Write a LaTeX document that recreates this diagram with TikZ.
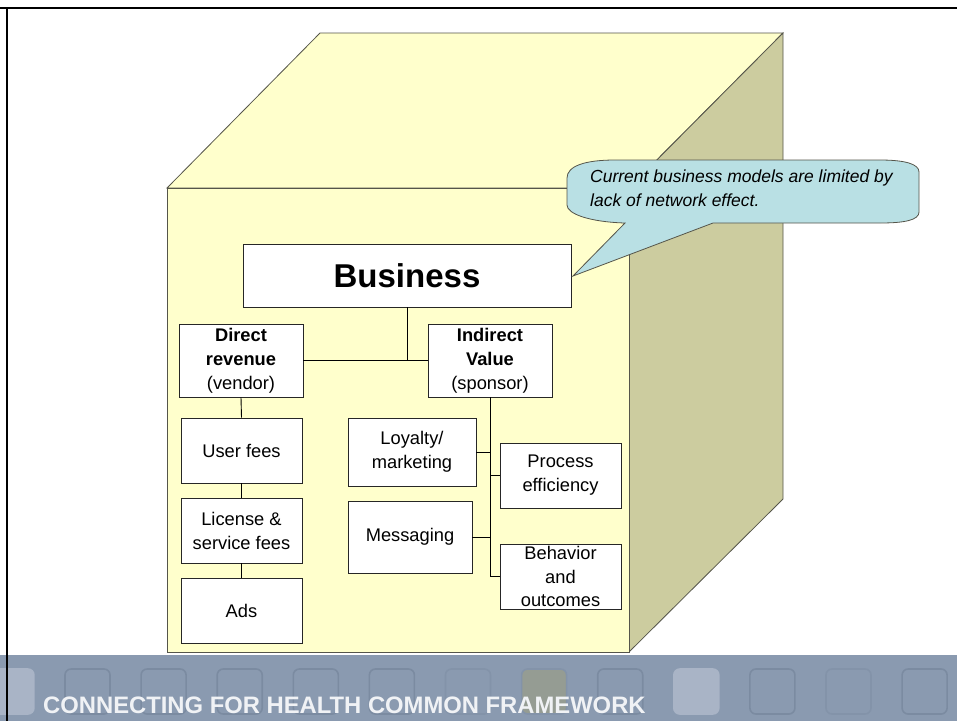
\documentclass[tikz,border=0pt]{standalone}
\usepackage{fontspec}
\setmainfont{Liberation Sans}
\definecolor{cubefront}{HTML}{FFFFCC}
\definecolor{cubeside}{HTML}{CCCC9F}
\definecolor{cubeline}{HTML}{55554A}
\definecolor{calloutfill}{HTML}{B9E0E4}
\definecolor{bannerbg}{HTML}{8A9AB0}
\definecolor{tileline}{HTML}{7B8BA1}
\definecolor{tilefaint}{HTML}{8393A9}
\definecolor{tilelight}{HTML}{A9B4C6}
\definecolor{tileolive}{HTML}{959C93}
\definecolor{bannertext}{HTML}{F0F2F5}
\begin{document}
\begin{tikzpicture}[x=1pt,y=-1pt,
    face/.style={fill=cubefront, draw=cubeline, line width=0.8pt},
    sideface/.style={fill=cubeside, draw=cubeline, line width=0.8pt},
    box/.style={draw=black!85, fill=white, line width=0.8pt, align=center,
      inner sep=0pt, font=\fontsize{18.3}{24}\selectfont},
    link/.style={draw=black, line width=0.9pt},
    tile/.style={line width=1.6pt, rounded corners=6pt}]
    \useasboundingbox (0,0) rectangle (957,721);
    % cube
    \coordinate (A) at (167,188);
    \coordinate (B) at (629,188);
    \coordinate (C) at (629,652);
    \coordinate (D) at (167,652);
    \coordinate (E) at (320,33);
    \coordinate (F) at (783,33);
    \coordinate (G) at (783,499);
    \filldraw[face] (A) -- (E) -- (F) -- (B) -- cycle;
    \filldraw[sideface] (B) -- (F) -- (G) -- (C) -- cycle;
    \filldraw[face] (A) -- (B) -- (C) -- (D) -- cycle;
    % footer
    \fill[bannerbg] (0,655) rectangle (957,721);
    \foreach \i/\fc/\lc in {-1/tilelight/tilelight, 0/bannerbg/tileline,
        1/bannerbg/tileline, 2/bannerbg/tileline, 3/bannerbg/tileline,
        4/bannerbg/tileline, 5/bannerbg/tilefaint, 6/tileolive/tilefaint,
        7/bannerbg/tileline, 8/tilelight/tilelight, 9/bannerbg/tileline,
        10/bannerbg/tilefaint, 11/bannerbg/tileline}
      \filldraw[tile, fill=\fc, draw=\lc] ({65+76.1*\i},669) rectangle +(45,45);
    \node[anchor=base west, inner sep=0pt, text=bannertext,
      font=\bfseries\fontsize{23.8}{28}\selectfont] (footer) at (43,713)
      {CONNECTING FOR HEALTH COMMON FRAMEWORK};
    \draw[line width=2.5pt] (0,8) -- (957,8);
    \draw[line width=2.2pt] (7,8) -- (7,721);
    % boxes
    \node[box, minimum width=328pt, minimum height=63pt,
      font=\bfseries\fontsize{33}{36}\selectfont] (business) at (407,275.5) {Business};
    \node[box, minimum width=124pt, minimum height=73pt] (direct) at (241,360.5)
      {\textbf{Direct}\\\textbf{revenue}\\(vendor)};
    \node[box, minimum width=124pt, minimum height=73pt] (indirect) at (490,360.5)
      {\textbf{Indirect}\\\textbf{Value}\\(sponsor)};
    \node[box, minimum width=121pt, minimum height=65pt] (userfees) at (241.5,450.5) {User fees};
    \node[box, minimum width=121pt, minimum height=65pt] (license) at (241.5,530.5) {License \&\\service fees};
    \node[box, minimum width=121pt, minimum height=65pt] (ads) at (241.5,610.5) {Ads};
    \node[box, minimum width=128pt, minimum height=68pt] (loyalty) at (412,452) {Loyalty/\\marketing};
    \node[box, minimum width=124pt, minimum height=72pt] (messaging) at (410,537) {Messaging};
    \node[box, minimum width=121pt, minimum height=65pt] (process) at (560.5,475.5) {Process\\efficiency};
    \node[box, minimum width=121pt, minimum height=65pt,
      font=\fontsize{18.3}{23.7}\selectfont] (behavior) at (560.5,576.5) {Behavior\\and\\outcomes};
    % connectors
    \draw[link] (business.south) -- (business.south |- direct.east);
    \draw[link] (direct.east) -- (indirect.west);
    \draw[link] (direct.south) -- (userfees.north);
    \draw[link] (userfees.south) -- (license.north);
    \draw[link] (license.south) -- (ads.north);
    \draw[link] (indirect.south) -- (indirect.south |- behavior.west);
    \draw[link] (loyalty.east) -- (loyalty.east -| indirect.south);
    \draw[link] (process.west) -- (process.west -| indirect.south);
    \draw[link] (messaging.east) -- (messaging.east -| indirect.south);
    \draw[link] (behavior.west) -- (behavior.west -| indirect.south);
    % callout
    \filldraw[fill=calloutfill, draw=cubeline, line width=0.8pt]
      (567,178) -- (567,205) .. controls (567,214) and (590,222) .. (625,223)
      -- (573,276) -- (713,223) -- (880,223)
      .. controls (905,223) and (919,220) .. (919,212) -- (919,172)
      .. controls (919,164) and (905,160) .. (880,160) -- (615,160)
      .. controls (585,160) and (567,166) .. (567,178) -- cycle;
    \node[anchor=north west, align=left, inner sep=0pt,
      font=\itshape\fontsize{17.5}{24}\selectfont] (note) at (590,170)
      {Current business models are limited by\\lack of network effect.};
\end{tikzpicture}
\end{document}
